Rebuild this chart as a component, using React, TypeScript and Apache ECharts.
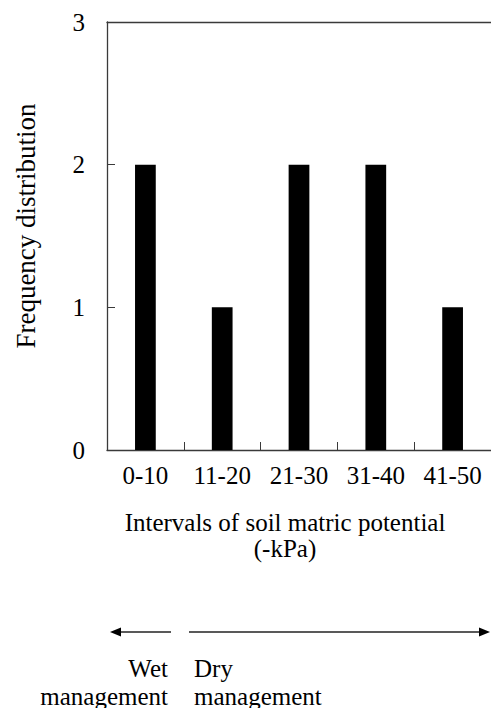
import React, { useEffect, useRef } from "react";
import * as echarts from "echarts";

const categories = ["0-10", "11-20", "21-30", "31-40", "41-50"];
const frequency = [2, 1, 2, 2, 1];
const yTicks = [0, 1, 2, 3];

const FONT = "Liberation Serif";

export default function App() {
  const ref = useRef<HTMLDivElement>(null);
  useEffect(() => {
    if (!ref.current) return;
    const chart = echarts.init(ref.current, undefined, { renderer: "svg" });
    const axisColor = "#3a3a3a";
    const txt = (text: string, x: number, y: number, align: string, size = 25) => ({
      type: "text",
      x,
      y,
      style: { text, fontFamily: FONT, fontSize: size, fill: "#000", align, verticalAlign: "middle" },
    });
    chart.setOption({
      animation: false,
      backgroundColor: "#ffffff",
      textStyle: { fontFamily: FONT },
      grid: { left: 107, top: 22, width: 385, height: 428, containLabel: false },
      xAxis: [
        {
          type: "category",
          data: categories,
          position: "bottom",
          axisLine: { show: true, lineStyle: { color: axisColor, width: 1.3 } },
          axisTick: { show: true, inside: true, length: 8, alignWithLabel: false, lineStyle: { color: axisColor } },
          axisLabel: { color: "#000", fontFamily: FONT, fontSize: 25, margin: 13 },
          splitLine: { show: false },
        },
        {
          type: "category",
          data: categories,
          position: "top",
          axisLine: { show: true, lineStyle: { color: axisColor, width: 1.3 } },
          axisTick: { show: false },
          axisLabel: { show: false },
        },
      ],
      yAxis: {
        type: "value",
        min: yTicks[0],
        max: yTicks[yTicks.length - 1],
        interval: 1,
        axisLine: { show: true, lineStyle: { color: axisColor, width: 1.3 } },
        axisTick: { show: true, inside: true, length: 8, lineStyle: { color: axisColor } },
        axisLabel: { color: "#000", fontFamily: FONT, fontSize: 25, margin: 22 },
        splitLine: { show: false },
      },
      series: [
        {
          type: "bar",
          data: frequency,
          barWidth: "27%",
          itemStyle: { color: "#000" },
        },
      ],
      graphic: [
        {
          type: "text",
          x: 26,
          y: 226,
          rotation: Math.PI / 2,
          style: {
            text: "Frequency distribution",
            fontFamily: FONT,
            fontSize: 27,
            fill: "#000",
            align: "center",
            verticalAlign: "middle",
          },
        },
        txt("Intervals of soil matric potential", 285, 522, "center"),
        txt("(-kPa)", 285, 548, "center"),
        { type: "line", shape: { x1: 118, y1: 632, x2: 171, y2: 632 }, style: { stroke: "#222", lineWidth: 1.3 } },
        { type: "polygon", shape: { points: [[110, 632], [121, 627.5], [121, 636.5]] }, style: { fill: "#000" } },
        { type: "line", shape: { x1: 189, y1: 632, x2: 482, y2: 632 }, style: { stroke: "#222", lineWidth: 1.3 } },
        { type: "polygon", shape: { points: [[490, 632], [479, 627.5], [479, 636.5]] }, style: { fill: "#000" } },
        txt("Wet", 168, 668, "right"),
        txt("management", 168, 696, "right"),
        txt("Dry", 194, 668, "left"),
        txt("management", 194, 696, "left"),
      ],
    });
    return () => chart.dispose();
  }, []);
  return (
    <div
      ref={ref}
      style={{ position: "absolute", left: 0, top: 0, width: 491, height: 708 }}
    />
  );
}
